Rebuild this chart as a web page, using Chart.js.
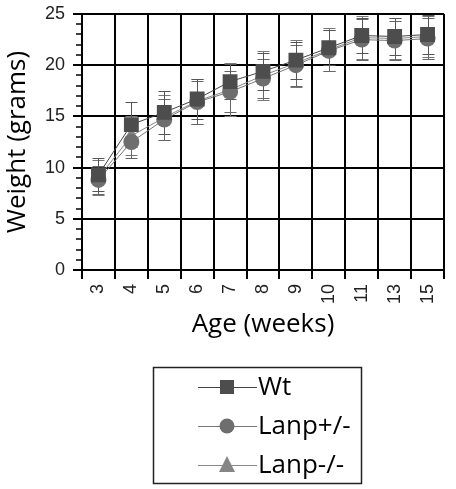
<!DOCTYPE html>
<html>
<head>
<meta charset="utf-8">
<script src="https://cdn.jsdelivr.net/npm/chart.js@4"></script>
<style>
  html, body { margin: 0; padding: 0; background: #fff; }
</style>
</head>
<body>
<canvas id="chart" width="456" height="489"></canvas>
<script>
// ages (weeks) on the x axis
const ages = ["3", "4", "5", "6", "7", "8", "9", "10", "11", "13", "15"];

// mean body weight (grams) per genotype
const wtWeight = [9.3, 14.2, 15.4, 16.7, 18.4, 19.4, 20.5, 21.7, 22.9, 22.8, 23.0];
const hetWeight = [8.8, 12.5, 14.7, 16.4, 17.4, 18.7, 20.0, 21.4, 22.5, 22.4, 22.6];
const koWeight = [9.0, 13.1, 14.9, 16.5, 17.6, 19.0, 20.2, 21.5, 22.7, 22.6, 22.8];

// error bar half-widths (grams)
const wtErr = [1.6, 2.2, 2.1, 2.0, 1.7, 1.8, 1.8, 1.7, 1.7, 1.8, 1.9];
const hetErr = [1.4, 1.6, 2.0, 2.1, 2.0, 1.9, 2.0, 2.0, 2.0, 1.9, 2.0];
const koErr = [1.7, 1.9, 2.2, 2.2, 2.6, 2.4, 2.3, 2.1, 2.1, 2.0, 2.0];

const yTicks = [0, 5, 10, 15, 20, 25];

const errorBars = {
  id: "errorBars",
  beforeDatasetsDraw(chart) {
    const { ctx, scales: { x, y } } = chart;
    ctx.save();
    ctx.lineWidth = 1;
    chart.data.datasets.slice().reverse().forEach((ds) => {
      ctx.strokeStyle = ds.errColor;
      ds.data.forEach((v, j) => {
        const px = Math.round(x.getPixelForValue(j)) + 0.5;
        const top = Math.round(y.getPixelForValue(v + ds.err[j])) + 0.5;
        const bot = Math.round(y.getPixelForValue(v - ds.err[j])) + 0.5;
        ctx.beginPath();
        ctx.moveTo(px, top); ctx.lineTo(px, bot);
        ctx.moveTo(px - 6, top); ctx.lineTo(px + 6, top);
        ctx.moveTo(px - 6, bot); ctx.lineTo(px + 6, bot);
        ctx.stroke();
      });
    });
    ctx.restore();
  }
};

// small ticks every gram on the left of the y axis
const minorTicks = {
  id: "minorTicks",
  afterDraw(chart) {
    const { ctx, scales: { y } } = chart;
    ctx.save();
    ctx.strokeStyle = "#000";
    ctx.lineWidth = 1.5;
    for (let v = y.min; v <= y.max; v++) {
      if (v % 5 === 0) continue;
      const py = Math.round(y.getPixelForValue(v));
      ctx.beginPath();
      ctx.moveTo(y.right - 6, py);
      ctx.lineTo(y.right, py);
      ctx.stroke();
    }
    ctx.restore();
  }
};

// boxed legend with line-through markers
const boxLegend = {
  id: "boxLegend",
  afterDraw(chart) {
    const { ctx } = chart;
    ctx.save();
    ctx.strokeStyle = "#222";
    ctx.lineWidth = 1.5;
    ctx.strokeRect(153.5, 367.5, 208, 116);
    const rows = [387, 426, 465];
    chart.data.datasets.forEach((ds, i) => {
      const cy = rows[i];
      ctx.strokeStyle = ds.borderColor;
      ctx.lineWidth = 1;
      ctx.beginPath();
      ctx.moveTo(198, cy + 0.5);
      ctx.lineTo(257, cy + 0.5);
      ctx.stroke();
      ctx.fillStyle = ds.pointBackgroundColor;
      ctx.beginPath();
      if (ds.pointStyle === "rect") {
        ctx.rect(220, cy - 7, 14, 14);
      } else if (ds.pointStyle === "circle") {
        ctx.arc(227, cy, 7.5, 0, Math.PI * 2);
      } else {
        ctx.moveTo(227, cy - 9);
        ctx.lineTo(235, cy + 7);
        ctx.lineTo(219, cy + 7);
        ctx.closePath();
      }
      ctx.fill();
      ctx.fillStyle = "#000";
      ctx.font = "26px 'Open Sans'";
      ctx.textBaseline = "middle";
      ctx.fillText(ds.label, 258, cy + 1);
    });
    ctx.restore();
  }
};

new Chart(document.getElementById("chart"), {
  type: "line",
  data: {
    labels: ages,
    datasets: [
      {
        label: "Wt",
        data: wtWeight,
        err: wtErr,
        errColor: "#555",
        borderColor: "#444",
        borderWidth: 1,
        pointStyle: "rect",
        pointRadius: 10.5,
        pointBackgroundColor: "#4d4d4d",
        pointBorderWidth: 0
      },
      {
        label: "Lanp+/-",
        data: hetWeight,
        err: hetErr,
        errColor: "#666",
        borderColor: "#777",
        borderWidth: 1,
        pointStyle: "circle",
        pointRadius: 8,
        pointBackgroundColor: "#6e6e6e",
        pointBorderWidth: 0
      },
      {
        label: "Lanp-/-",
        data: koWeight,
        err: koErr,
        errColor: "#777",
        borderColor: "#888",
        borderWidth: 1,
        pointStyle: "triangle",
        pointRadius: 8.5,
        pointBackgroundColor: "#858585",
        pointBorderWidth: 0
      }
    ]
  },
  options: {
    responsive: false,
    animation: false,
    layout: { padding: { left: 0, right: 12, top: 14, bottom: 145 } },
    plugins: {
      legend: { display: false },
      tooltip: { enabled: false }
    },
    scales: {
      x: {
        offset: true,
        afterFit: (s) => { s.height = 74; s.paddingLeft = 0; s.paddingRight = 0; },
        grid: { offset: true, color: "#000", lineWidth: 2, tickLength: 9 },
        border: { color: "#000", width: 2 },
        ticks: {
          color: "#222",
          font: { family: "'Liberation Sans'", size: 18 },
          minRotation: 90,
          maxRotation: 90,
          padding: 5
        },
        title: {
          display: true,
          text: "Age (weeks)",
          color: "#000",
          font: { family: "'Open Sans'", size: 26 },
          padding: { top: 4, bottom: 4 }
        }
      },
      y: {
        min: 0,
        max: 25,
        afterFit: (s) => { s.width = 82; s.paddingTop = 0; s.paddingBottom = 0; },
        afterBuildTicks: (s) => { s.ticks = yTicks.map((v) => ({ value: v })); },
        grid: { color: "#000", lineWidth: 2, tickLength: 9 },
        border: { color: "#000", width: 2 },
        ticks: {
          color: "#222",
          font: { family: "'Liberation Sans'", size: 18 },
          padding: 8
        },
        title: {
          display: true,
          text: "Weight (grams)",
          color: "#000",
          font: { family: "'Open Sans'", size: 26 },
          padding: { top: 2, bottom: 4 }
        }
      }
    }
  },
  plugins: [errorBars, minorTicks, boxLegend]
});
</script>
</body>
</html>
